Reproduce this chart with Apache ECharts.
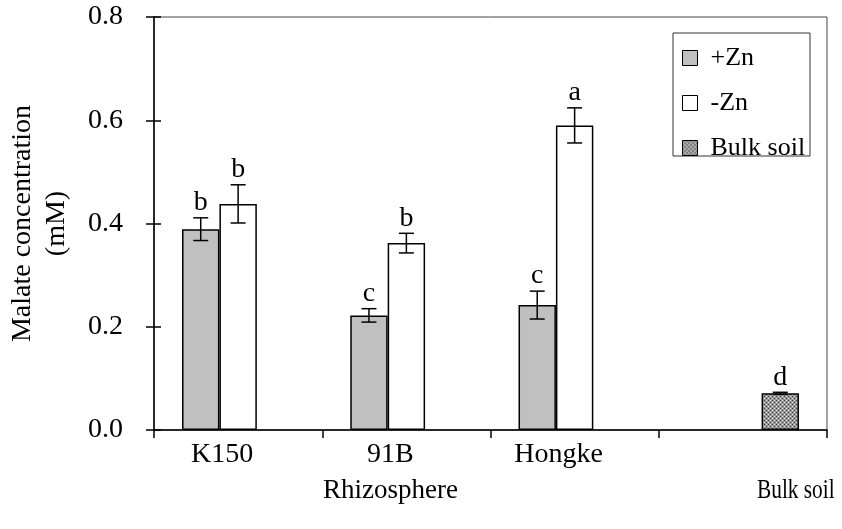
<!DOCTYPE html>
<html>
<head>
<meta charset="utf-8">
<script src="https://cdn.jsdelivr.net/npm/echarts@6/dist/echarts.min.js"></script>
<style>html,body{margin:0;padding:0;background:#fff}#c{width:842px;height:529px}</style>
</head>
<body>
<div id="c"></div>
<script>
const categories = ['K150', '91B', 'Hongke', ''];
const seriesNames = ['+Zn', '-Zn', 'Bulk soil'];
const plusZn = [0.389, 0.222, 0.242, null];
const minusZn = [0.438, 0.362, 0.590, null];
const bulkSoil = [null, null, null, 0.071];
const plusZnErr = [0.022, 0.013, 0.027, null];
const minusZnErr = [0.037, 0.019, 0.034, null];
const bulkSoilErr = [null, null, null, 0.002];
const plusZnLetters = ['b', 'c', 'c', ''];
const minusZnLetters = ['b', 'b', 'a', ''];
const bulkSoilLetters = ['', '', '', 'd'];
const yTicks = [0, 0.2, 0.4, 0.6, 0.8];
const groupTitles = ['Rhizosphere', 'Bulk soil'];

const FONT = '"Liberation Serif", "Times New Roman", serif';
const FS = 28;

function makePattern() {
  const c = document.createElement('canvas');
  c.width = 4; c.height = 4;
  const g = c.getContext('2d');
  g.fillStyle = '#9a9a9a'; g.fillRect(0, 0, 4, 4);
  g.fillStyle = '#3c3c3c';
  g.fillRect(0, 0, 1, 1); g.fillRect(2, 2, 1, 1);
  g.fillStyle = '#d8d8d8';
  g.fillRect(2, 0, 1, 1); g.fillRect(0, 2, 1, 1);
  return { image: c, repeat: 'repeat' };
}
const pattern = makePattern();

const values = [plusZn, minusZn, bulkSoil];
const errs = [plusZnErr, minusZnErr, bulkSoilErr];
const letters = [plusZnLetters, minusZnLetters, bulkSoilLetters];
const colors = ['#c0c0c0', '#ffffff', pattern];

const CAT_GAP = 0.333;

function errorSeries(si) {
  const data = [];
  values[si].forEach((v, i) => { if (v != null) data.push([i, v, errs[si][i], letters[si][i]]); });
  return {
    type: 'custom',
    name: seriesNames[si] + ' err',
    z: 10,
    silent: true,
    data: data,
    encode: { x: 0, y: 1 },
    renderItem: function (params, api) {
      const ci = api.value(0), v = api.value(1), e = api.value(2);
      const lt = data[params.dataIndex][3];
      const center = api.coord([ci, v]);
      const catW = api.size([1, 0])[0];
      const bw = catW * (1 - CAT_GAP) / 3;
      const x = center[0] + (si - 1) * bw;
      const yHi = api.coord([ci, v + e])[1];
      const yLo = api.coord([ci, v - e])[1];
      const cap = 7.5;
      const st = { stroke: '#000', lineWidth: 1.5 };
      return {
        type: 'group',
        children: [
          { type: 'line', shape: { x1: x, y1: yHi, x2: x, y2: yLo }, style: st },
          { type: 'line', shape: { x1: x - cap, y1: yHi, x2: x + cap, y2: yHi }, style: st },
          { type: 'line', shape: { x1: x - cap, y1: yLo, x2: x + cap, y2: yLo }, style: st },
          { type: 'text', style: { text: lt, x: x, y: yHi - 1, textAlign: 'center', textVerticalAlign: 'bottom', font: FS + 'px ' + FONT, fill: '#000' } }
        ]
      };
    }
  };
}

const barSeries = values.map((vals, si) => ({
  type: 'bar',
  name: seriesNames[si],
  data: vals,
  barGap: '0%',
  barCategoryGap: (CAT_GAP * 100) + '%',
  itemStyle: { color: colors[si], borderColor: '#000', borderWidth: 1.5 },
  emphasis: { disabled: true },
  z: 2
}));

const chart = echarts.init(document.getElementById('c'), null, { renderer: 'canvas' });
chart.setOption({
  animation: false,
  backgroundColor: '#fff',
  textStyle: { fontFamily: FONT, color: '#000' },
  grid: { left: 154, right: 15, top: 17, bottom: 99, show: true, borderColor: '#444', borderWidth: 1, backgroundColor: 'transparent', outerBoundsMode: 'none', containLabel: false },
  legend: {
    data: seriesNames,
    orient: 'vertical',
    left: 682, top: 45,
    padding: 0,
    itemGap: 19,
    itemWidth: 15, itemHeight: 15,
    icon: 'rect',
    z: 20,
    itemStyle: { borderColor: '#000', borderWidth: 1 },
    textStyle: { fontFamily: FONT, fontSize: 26, lineHeight: 26, color: '#000', padding: [0, 0, 0, 8] },
    selectedMode: false
  },
  xAxis: {
    type: 'category',
    data: categories,
    axisLine: { lineStyle: { color: '#000', width: 1.5 } },
    axisTick: { show: true, length: 8, lineStyle: { color: '#000', width: 1.5 } },
    axisLabel: { fontFamily: FONT, fontSize: FS, color: '#000', margin: 11, padding: [0, 32, 0, 0] },
    splitLine: { show: false }
  },
  yAxis: [{
    type: 'value',
    min: yTicks[0], max: yTicks[yTicks.length - 1], interval: 0.2,
    name: 'Malate concentration\n(mM)',
    nameLocation: 'middle',
    nameGap: 80,
    nameRotate: 90,
    nameTextStyle: { fontFamily: FONT, fontSize: FS, color: '#000', lineHeight: 34, align: 'center' },
    axisLine: { show: true, lineStyle: { color: '#000', width: 1.5 } },
    axisTick: { show: true, length: 8, lineStyle: { color: '#000', width: 1.5 } },
    axisLabel: { fontFamily: FONT, fontSize: FS, color: '#000', margin: 31, formatter: v => v.toFixed(1) },
    splitLine: { show: false }
  }, {
    type: 'value',
    position: 'left',
    min: yTicks[0], max: yTicks[yTicks.length - 1], interval: 0.2,
    axisLine: { show: false },
    axisTick: { show: true, inside: true, length: 7, lineStyle: { color: '#000', width: 1.5 } },
    axisLabel: { show: false },
    splitLine: { show: false }
  }],
  graphic: [
    { type: 'rect', z: 1, shape: { x: 673, y: 33, width: 137, height: 123 }, style: { fill: '#fff', stroke: '#333', lineWidth: 1 } },
    { type: 'text', x: 323, y: 491, style: { text: groupTitles[0], font: '27px ' + FONT, fill: '#000', textVerticalAlign: 'middle' } },
    { type: 'text', x: 757, y: 491, scaleX: 0.79, style: { text: groupTitles[1], font: '27px ' + FONT, fill: '#000', textVerticalAlign: 'middle' } }
  ],
  series: barSeries.concat([errorSeries(0), errorSeries(1), errorSeries(2)])
});
</script>
</body>
</html>
